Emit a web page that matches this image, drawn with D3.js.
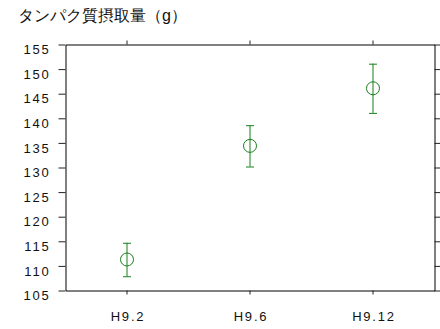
<!DOCTYPE html>
<html>
<head>
<meta charset="utf-8">
<script src="https://cdn.jsdelivr.net/npm/d3@7"></script>
<style>
  body { margin: 0; background: #fff; }
  text { font-family: "Liberation Sans", Arial, sans-serif; }
</style>
</head>
<body>
<script>
// data
const categories = ['H9.2', 'H9.6', 'H9.12'];
const means = [111.2, 134.3, 146.0];
const errors = [3.4, 4.2, 5.0];
const yTicks = [105, 110, 115, 120, 125, 130, 135, 140, 145, 150, 155];

const w = 440, h = 329;
const mLeft = 65, mRight = 434, mTop = 44, mBottom = 290;
const green = '#17801a';

const svg = d3.select('body').append('svg')
    .attr('width', w)
    .attr('height', h);

// title
svg.append('text')
    .attr('x', 18)
    .attr('y', 21)
    .attr('font-family', '"Noto Sans CJK JP", sans-serif')
    .attr('font-size', 16)
    .attr('font-weight', 500)
    .attr('fill', '#111')
    .text('タンパク質摂取量（g）');

const x = d3.scaleBand().domain(categories).range([mLeft, mRight]);
const y = d3.scaleLinear().domain([105, 155]).range([mBottom, mTop]);

// left axis
const gl = svg.append('g')
    .attr('transform', `translate(${mLeft + 0.5},0.5)`)
    .call(d3.axisLeft(y).tickValues(yTicks).tickSize(7).tickSizeOuter(0));
gl.selectAll('text')
    .attr('x', -15)
    .attr('dy', '0.32em')
    .attr('y', 5)
    .attr('font-size', 13)
    .attr('letter-spacing', 1.8)
    .attr('fill', '#111');

// bottom axis
const gb = svg.append('g')
    .attr('transform', `translate(0.5,${mBottom + 0.5})`)
    .call(d3.axisBottom(x).tickSize(4).tickSizeOuter(0));
gb.selectAll('text')
    .attr('y', 0)
    .attr('dy', 30)
    .attr('dx', 1)
    .attr('font-size', 13)
    .attr('letter-spacing', 1.8)
    .attr('fill', '#111');

// top axis, ticks only
svg.append('g')
    .attr('transform', `translate(0.5,${mTop + 0.5})`)
    .call(d3.axisTop(x).tickSize(4).tickSizeOuter(0).tickFormat(''));

// right axis, ticks only
svg.append('g')
    .attr('transform', `translate(${mRight + 0.5},0.5)`)
    .call(d3.axisRight(y).tickValues(yTicks).tickSize(7).tickSizeOuter(0).tickFormat(''));

svg.selectAll('.domain').attr('stroke', '#000');
svg.selectAll('.tick line').attr('stroke', '#222');

// error bars
const pts = svg.append('g').selectAll('g')
    .data(categories)
    .join('g')
    .attr('transform', d => `translate(${x(d) + x.bandwidth() / 2 + 0.5},0)`);

pts.append('line')
    .attr('y1', (d, i) => y(means[i] + errors[i]))
    .attr('y2', (d, i) => y(means[i] - errors[i]))
    .attr('stroke', green);

pts.append('line')
    .attr('x1', -4).attr('x2', 4)
    .attr('y1', (d, i) => y(means[i] + errors[i]) + 0.5)
    .attr('y2', (d, i) => y(means[i] + errors[i]) + 0.5)
    .attr('stroke', green);

pts.append('line')
    .attr('x1', -4).attr('x2', 4)
    .attr('y1', (d, i) => y(means[i] - errors[i]) + 0.5)
    .attr('y2', (d, i) => y(means[i] - errors[i]) + 0.5)
    .attr('stroke', green);

pts.append('circle')
    .attr('cy', (d, i) => y(means[i]))
    .attr('r', 6.5)
    .attr('fill', 'none')
    .attr('stroke', green);
</script>
</body>
</html>
